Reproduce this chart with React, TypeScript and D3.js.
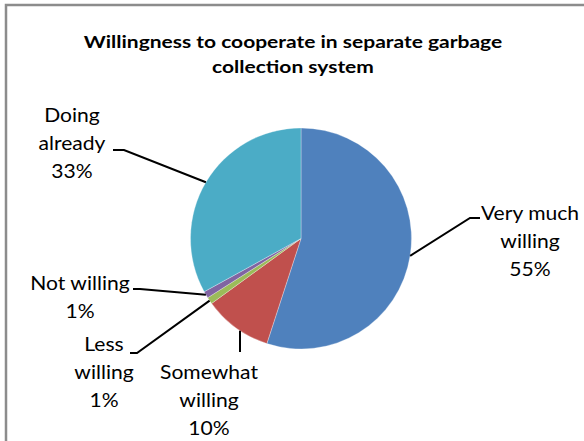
import React from "react";
import * as d3 from "d3";

const categories = ["Very much willing", "Somewhat willing", "Less willing", "Not willing", "Doing already"];
const values = [55, 10, 1, 1, 33];
const colors = ["#4F81BD", "#C0504D", "#9BBB59", "#8064A2", "#4BACC6"];
const labelLines = [
  ["Very much", "willing", "55%"],
  ["Somewhat", "willing", "10%"],
  ["Less", "willing", "1%"],
  ["Not willing", "1%"],
  ["Doing", "already", "33%"],
];
const titleLines = ["Willingness to cooperate in separate garbage", "collection system"];

// label layout: text center x, first baseline y, leader elbow + end; vertical = leader drops straight from arc
const labelPos = [
  { x: 530, y: 220, elbow: [470, 218], end: [480, 218], vertical: false },
  { x: 209, y: 379, elbow: [240, 352], end: [240, 352], vertical: true },
  { x: 104, y: 351, elbow: [137, 353], end: [130, 353], vertical: false },
  { x: 80, y: 290, elbow: [140, 289], end: [133, 289], vertical: false },
  { x: 72, y: 122, elbow: [124, 150], end: [113, 150], vertical: false },
];

export default function App() {
  const W = 584, H = 441;
  const cx = 301, cy = 238.5, r = 110.5;
  const pie = d3.pie<number>().sort(null).value((d) => d)(values);
  const arc = d3.arc<d3.PieArcDatum<number>>().innerRadius(0).outerRadius(r);
  const font = "Lato, 'Open Sans', sans-serif";
  const sx = 1.14;
  return (
    <svg width={W} height={H} style={{ position: "absolute", left: 0, top: 0 }}>
      <rect x={0} y={0} width={W} height={H} fill="#fff" />
      <rect x={6} y={5} width={W + 20} height={H + 20} fill="none" stroke="#8c8c8c" strokeWidth={2.5} />
      {titleLines.map((t, i) => (
        <text
          key={i}
          transform={`translate(293,${48 + i * 25}) scale(1.2,1)`}
          textAnchor="middle"
          fontFamily={font}
          fontWeight="bold"
          fontSize={17.5}
          fill="#000"
        >
          {t}
        </text>
      ))}
      <g transform={`translate(${cx},${cy})`}>
        {pie.map((p, i) => (
          <path key={i} d={arc(p) || ""} fill={colors[i]} stroke="#ffffff" strokeOpacity={0.5} strokeWidth={0.6} />
        ))}
      </g>
      {pie.map((p, i) => {
        const mid = (p.startAngle + p.endAngle) / 2;
        const lp = labelPos[i];
        let pt: number[];
        if (lp.vertical) {
          const dx = lp.elbow[0] - cx;
          pt = [lp.elbow[0], cy + Math.sqrt(r * r - dx * dx)];
        } else {
          pt = [cx + r * Math.sin(mid), cy - r * Math.cos(mid)];
        }
        return (
          <g key={i}>
            <polyline
              points={`${pt[0]},${pt[1]} ${lp.elbow[0]},${lp.elbow[1]} ${lp.end[0]},${lp.end[1]}`}
              fill="none"
              stroke="#000"
              strokeWidth={2}
            />
            {labelLines[i].map((t, j) => (
              <text
                key={j}
                transform={`translate(${lp.x},${lp.y + j * 28}) scale(${sx},1)`}
                textAnchor="middle"
                fontFamily={font}
                fontSize={18.5}
                fill="#000"
              >
                {t}
              </text>
            ))}
          </g>
        );
      })}
    </svg>
  );
}
